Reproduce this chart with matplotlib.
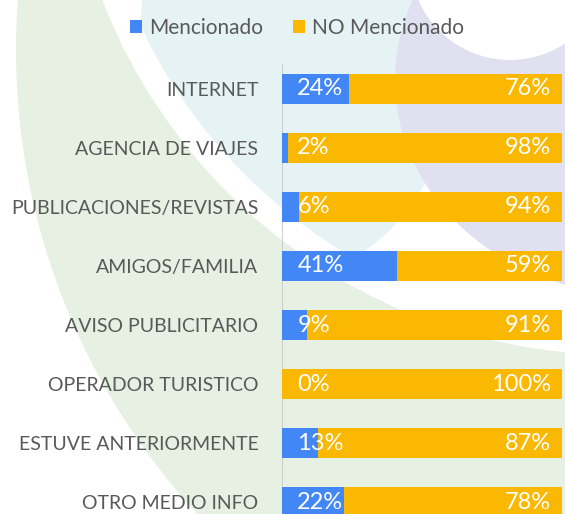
import matplotlib.pyplot as plt
import numpy as np
from matplotlib.patches import Ellipse

categories = ['INTERNET', 'AGENCIA DE VIAJES', 'PUBLICACIONES/REVISTAS', 'AMIGOS/FAMILIA',
              'AVISO PUBLICITARIO', 'OPERADOR TURISTICO', 'ESTUVE ANTERIORMENTE', 'OTRO MEDIO INFO']
mencionado = [24, 2, 6, 41, 9, 0, 13, 22]
no_mencionado = [76, 98, 94, 59, 91, 100, 87, 78]

W, H = 565, 514
plt.rcParams['font.family'] = ['Lato', 'DejaVu Sans']

fig = plt.figure(figsize=(W / 100, H / 100), dpi=100)
fig.patch.set_facecolor('white')


def px(x, y):
    # pixel coords (y from top) -> figure fraction
    return (x / W, 1 - y / H)


# faint background swooshes
def blob(x, y, rx, ry, c, z, add=True):
    e = Ellipse(px(x, y), 2 * rx / W, 2 * ry / H, transform=fig.transFigure,
                facecolor=c, edgecolor='none', zorder=z)
    if add:
        fig.patches.append(e)
    return e


blob(700, 50, 684, 684, '#e6f0e3', -10)
blob(620, -200, 555, 555, '#ffffff', -9)
inner = blob(620, -200, 530, 530, 'none', -9, add=False)
cyan = blob(300, 40, 160, 230, '#e5f3f5', -8)
cyan.set_clip_path(inner)
blob(640, 80, 245, 215, '#e0e0f0', -6)
blob(510, -40, 100, 100, '#ffffff', -5)

ax = fig.add_axes([282 / W, 0, 280 / W, 450 / H])
ax.set_facecolor('none')
y = np.arange(len(categories))
m = np.array(mencionado) / 100
n = np.array(no_mencionado) / 100
ax.barh(y, m, height=0.51, color='#4287f5', label='Mencionado', zorder=3)
ax.barh(y, n, left=m, height=0.51, color='#fbb800', label='NO Mencionado', zorder=3)

for i in range(len(categories)):
    ax.annotate(f'{mencionado[i]}%', (0, y[i]), xytext=(11, 0), textcoords='offset points',
                ha='left', va='center', color='white', fontsize=17, zorder=5)
    ax.annotate(f'{no_mencionado[i]}%', (1, y[i]), xytext=(-8, 0), textcoords='offset points',
                ha='right', va='center', color='white', fontsize=17, zorder=5)

ax.set_xlim(0, 1)
ax.set_ylim(7.2, -0.42)
ax.set_yticks(y)
ax.set_yticklabels(categories, color='#595959', fontsize=14)
ax.tick_params(axis='y', length=0, pad=17)
ax.set_xticks([])
for s in ['top', 'right', 'bottom']:
    ax.spines[s].set_visible(False)
ax.spines['left'].set_color('#d0d0d0')

fig.legend(loc='center', bbox_to_anchor=(297 / W, 1 - 28 / H), ncol=2, frameon=False,
           handlelength=0.58, handleheight=0.58, handletextpad=0.34, columnspacing=1.44,
           fontsize=15, labelcolor='#595959')

plt.savefig('out.png', dpi=100)
